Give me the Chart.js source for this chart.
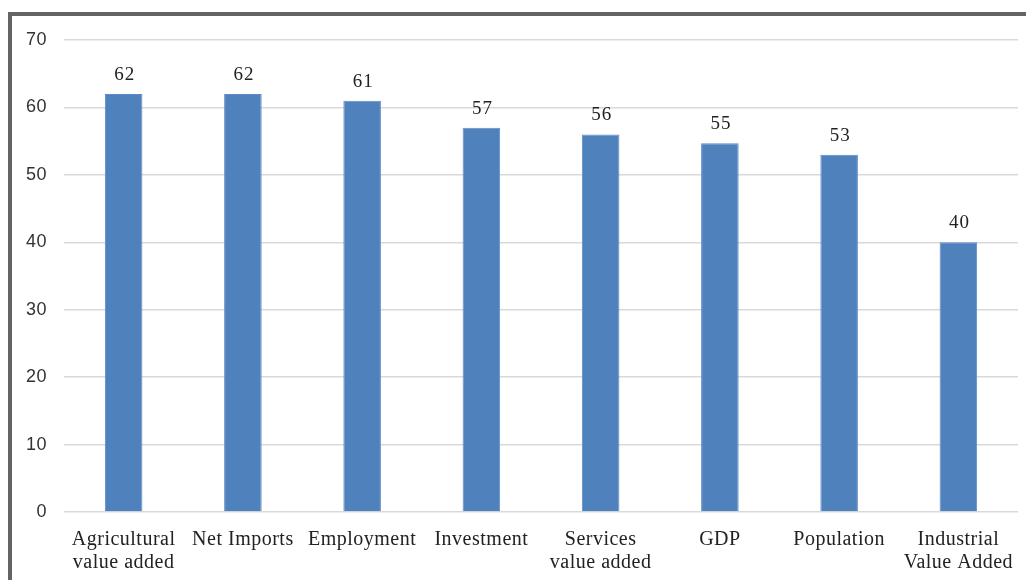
<!DOCTYPE html>
<html>
<head>
<meta charset="utf-8">
<script src="https://cdn.jsdelivr.net/npm/chart.js@4"></script>
<style>
  html, body { margin: 0; padding: 0; background: #fff; overflow: hidden; }
  #frame {
    position: absolute; left: 8px; top: 12px; width: 1100px; height: 600px;
    border-left: 4px solid #646464; border-top: 4px solid #646464;
  }
  #wrap { position: absolute; left: 0; top: 0; width: 1026px; height: 580px; }
</style>
</head>
<body>
<div id="frame"></div>
<div id="wrap"><canvas id="barChart" width="1026" height="580"></canvas></div>
<script>
const categories = [
  ["Agricultural", "value added"],
  "Net Imports",
  "Employment",
  "Investment",
  ["Services", "value added"],
  "GDP",
  "Population",
  ["Industrial", "Value Added"]
];
const values = [62, 62, 61, 57, 56, 54.7, 53, 40];
const yTicks = [0, 10, 20, 30, 40, 50, 60, 70];

// the original text is a little stretched, so space the letters out a bit
const spacing = {
  id: "spacing",
  beforeDraw(chart) { chart.ctx.letterSpacing = "0.5px"; },
  afterDraw(chart) { chart.ctx.letterSpacing = "0px"; }
};

// draws the rounded value above each bar
const barLabels = {
  id: "barLabels",
  afterDatasetsDraw(chart) {
    const ctx = chart.ctx;
    const meta = chart.getDatasetMeta(0);
    ctx.save();
    ctx.letterSpacing = "0.8px";
    ctx.font = '19px "Liberation Serif"';
    ctx.fillStyle = "#222";
    ctx.textAlign = "center";
    ctx.textBaseline = "alphabetic";
    meta.data.forEach((bar, i) => {
      ctx.fillText(Math.round(values[i]), bar.x + 1, bar.y - 14);
    });
    ctx.restore();
  }
};

const ctx = document.getElementById("barChart").getContext("2d");
new Chart(ctx, {
  type: "bar",
  data: {
    labels: categories,
    datasets: [{
      data: values,
      backgroundColor: "#4f81bd",
      borderColor: "#5b8cc6",
      borderWidth: 1,
      categoryPercentage: 1,
      barPercentage: 0.315
    }]
  },
  options: {
    responsive: false,
    animation: false,
    layout: { padding: { left: 10, right: 8, top: 40, bottom: -2 } },
    plugins: {
      legend: { display: false },
      tooltip: { enabled: false }
    },
    scales: {
      x: {
        grid: { display: false },
        border: { display: false },
        ticks: {
          font: { family: "Liberation Serif", size: 20, lineHeight: 1.15 },
          color: "#222",
          maxRotation: 0,
          autoSkip: false,
          padding: 8
        }
      },
      y: {
        min: 0,
        max: 70,
        afterBuildTicks(axis) {
          axis.ticks = yTicks.map(v => ({ value: v }));
        },
        grid: { color: "#d9d9d9", lineWidth: 1.5, drawTicks: false },
        border: { display: false },
        ticks: {
          font: { family: "Liberation Sans", size: 18 },
          color: "#333",
          padding: 17
        }
      }
    }
  },
  plugins: [spacing, barLabels]
});
</script>
</body>
</html>
